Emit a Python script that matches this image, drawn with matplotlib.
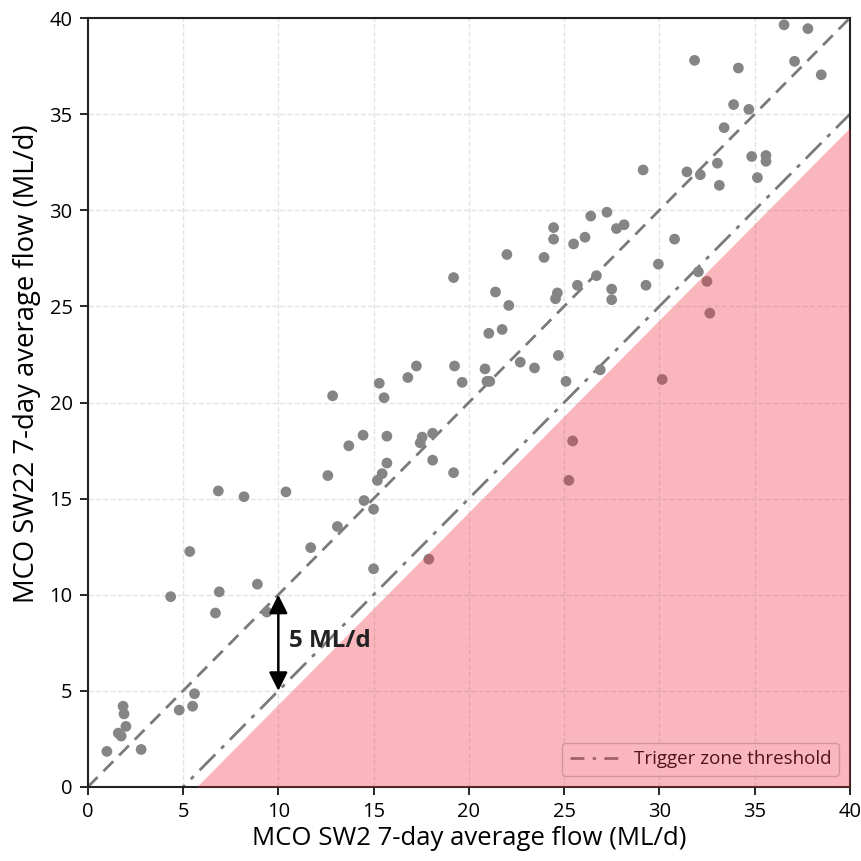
import matplotlib.pyplot as plt
import numpy as np

# SW2 (x) vs SW22 (y) 7-day average flow, ML/d
sw2 = [1.0, 2.8, 1.6, 1.75, 2.0, 1.9, 1.85, 4.8, 5.5, 5.6, 4.35, 6.7, 6.9, 8.9, 9.4,
       5.35, 6.85, 8.2, 10.4, 11.7, 13.1, 14.5, 15.0, 15.0, 17.9, 12.6, 13.7, 14.45,
       12.85, 15.2, 15.45, 15.7, 15.7, 15.3, 15.55, 16.8, 17.25, 17.55, 17.45, 18.1,
       18.1, 19.2, 19.25, 19.2, 19.65, 20.85, 20.95, 21.1, 21.05, 21.75, 21.4, 22.1,
       22.0, 22.7, 23.45, 23.95, 24.45, 24.45, 24.55, 24.65, 24.7, 25.1, 25.45, 25.25,
       25.5, 25.7, 26.1, 26.4, 26.7, 26.9, 27.25, 27.5, 27.5, 27.75, 28.15, 29.3, 29.95,
       30.15, 29.15, 30.8, 32.05, 32.5, 32.65, 31.45, 32.15, 31.85, 33.05, 33.15, 33.4,
       33.9, 34.15, 34.7, 34.85, 35.15, 35.6, 35.6, 36.55, 37.8, 37.1, 38.5]
sw22 = [1.85, 1.95, 2.8, 2.65, 3.15, 3.8, 4.2, 4.0, 4.2, 4.85, 9.9, 9.05, 10.15, 10.55, 9.1,
        12.25, 15.4, 15.1, 15.35, 12.45, 13.55, 14.9, 14.45, 11.35, 11.85, 16.2, 17.75, 18.3,
        20.35, 15.95, 16.3, 16.85, 18.25, 21.0, 20.25, 21.3, 21.9, 18.2, 17.9, 18.4,
        17.0, 16.35, 21.9, 26.5, 21.05, 21.75, 21.1, 21.1, 23.6, 23.8, 25.75, 25.05,
        27.7, 22.1, 21.8, 27.55, 29.1, 28.5, 25.4, 25.7, 22.45, 21.1, 18.0, 15.95,
        28.25, 26.1, 28.6, 29.7, 26.6, 21.7, 29.9, 25.9, 25.35, 29.05, 29.25, 26.1, 27.2,
        21.2, 32.1, 28.5, 26.8, 26.3, 24.65, 32.0, 31.85, 37.8, 32.45, 31.3, 34.3,
        35.5, 37.4, 35.25, 32.8, 31.7, 32.85, 32.55, 39.65, 39.45, 37.75, 37.05]

offset = 5.0          # trigger threshold below the 1:1 line
shade_offset = 5.7

plt.rcParams['font.family'] = 'Open Sans'

fig, ax = plt.subplots(figsize=(8.61, 8.61), dpi=100)
fig.subplots_adjust(left=0.102, right=0.987, bottom=0.086, top=0.979)

ax.scatter(sw2, sw22, s=60, color='#858585', edgecolors='none', zorder=3)

xx = np.array([0, 40])
ax.plot(xx, xx, ls='--', color='#7a7a7a', lw=2, dashes=(5, 3), zorder=2)
ax.plot(xx, xx - offset, ls='-.', color='#7a7a7a', lw=2,
        dashes=(8, 3, 1.5, 3), label='Trigger zone threshold', zorder=2)

ax.annotate('', xy=(10, 5), xytext=(10, 10),
            arrowprops=dict(arrowstyle='<|-|>', color='black', lw=1.8,
                            mutation_scale=28, shrinkA=0, shrinkB=0), zorder=4)
ax.text(10.55, 7.6, '5 ML/d', fontsize=17.5, fontweight='bold', va='center',
        color='#222222', zorder=12)

leg = ax.legend(loc='lower right', frameon=True, fancybox=True,
                handlelength=2.6, borderaxespad=0.6, prop={'size': 13.5})
leg.get_frame().set_edgecolor('#bbbbbb')
leg.get_lines()[0].set_dashes([5, 3, 1.2, 3])

xs = np.linspace(shade_offset, 40, 50)
ax.fill_between(xs, 0, xs - shade_offset, color='#ee3344', alpha=0.35,
                lw=0, zorder=10)

ax.set_xlim(0, 40)
ax.set_ylim(0, 40)
ax.set_xticks(range(0, 41, 5))
ax.set_yticks(range(0, 41, 5))
ax.tick_params(labelsize=14.5, length=6, width=1.2, pad=5)
ax.grid(True, ls='--', color='#e3e3e3', lw=1)
ax.set_axisbelow(True)
for sp in ax.spines.values():
    sp.set_linewidth(1.5)
    sp.set_color('#222222')

ax.set_xlabel('MCO SW2 7-day average flow (ML/d)', fontsize=18.5, labelpad=3)
ax.set_ylabel('MCO SW22 7-day average flow (ML/d)', fontsize=19.8)
ax.yaxis.set_label_coords(-0.062, 0.55)

fig.savefig('out.png', dpi=100)
